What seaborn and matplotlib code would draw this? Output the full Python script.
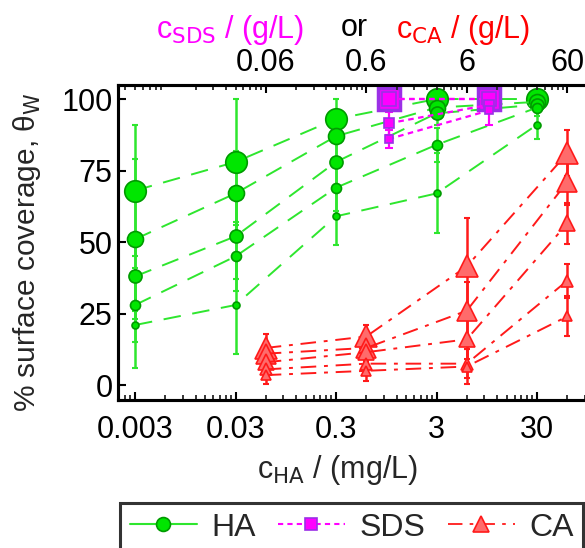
import numpy as np
import pandas as pd
import matplotlib
matplotlib.use("Agg")
import matplotlib.pyplot as plt
from matplotlib.lines import Line2D
from matplotlib.ticker import FixedLocator, NullFormatter
import seaborn as sns

# ---------------- data ----------------
ha_x = [0.003, 0.03, 0.3, 3, 30]
ha_y1 = [68, 78, 93, 100, 100]
ha_y2 = [51, 67, 87, 97, 99]
ha_y3 = [38, 52, 78, 95, 98]
ha_y4 = [28, 45, 69, 84, 97]
ha_y5 = [21, 28, 59, 67, 91]
ha_e1 = [23, 22, 7, 0, 0]
ha_e2 = [28, 15, 8, 3, 1]
ha_e3 = [12, 15, 8, 4, 2]
ha_e4 = [13, 12, 8, 6, 3]
ha_e5 = [15, 17, 10, 14, 5]

sds_x = [1, 10]
sds_y1 = [100, 100]
sds_y2 = [100, 100]
sds_y3 = [91.5, 98]
sds_y4 = [86, 96]
sds_e1 = [0, 9]
sds_e2 = [0, 0]
sds_e3 = [4, 0]
sds_e4 = [3, 0]

ca_x = [0.06, 0.6, 6, 60]
ca_y1 = [13, 17, 41.5, 81]
ca_y2 = [11, 13, 26, 71]
ca_y3 = [8, 11.5, 16, 56.5]
ca_y4 = [5.5, 7.5, 7.5, 36.5]
ca_y5 = [3.5, 5, 6.5, 24]
ca_e1 = [5, 4, 17, 8]
ca_e2 = [4, 3, 10, 8]
ca_e3 = [3, 3, 7, 7]
ca_e4 = [3, 3, 5, 6]
ca_e5 = [3, 3.5, 6, 7]

bottom_ticks = [0.003, 0.03, 0.3, 3, 30]
bottom_labels = ["0.003", "0.03", "0.3", "3", "30"]
top_ticks = [0.06, 0.6, 6, 60]
top_labels = ["0.06", "0.6", "6", "60"]
y_ticks = [0, 25, 50, 75, 100]

# ---------------- style ----------------
sns.set_theme(style="ticks")
FAM = ["Liberation Sans Narrow", "Liberation Sans", "DejaVu Sans"]
plt.rcParams["font.family"] = FAM
plt.rcParams["mathtext.fontset"] = "custom"
plt.rcParams["mathtext.rm"] = "Liberation Sans Narrow"
plt.rcParams["mathtext.it"] = "Liberation Sans Narrow:italic"
plt.rcParams["mathtext.bf"] = "Liberation Sans Narrow:bold"

FS = 22

W, H = 585, 548
fig = plt.figure(figsize=(W / 100, H / 100), dpi=100)
ax_l, ax_r, ax_t, ax_b = 118, 595, 85, 400
ax = fig.add_axes([ax_l / W, 1 - ax_b / H, (ax_r - ax_l) / W, (ax_b - ax_t) / H])

ax.set_xscale("log")
ppd = 100.5
xmin = 0.003 * 10 ** ((ax_l - 135) / ppd)
xmax = 0.003 * 10 ** ((ax_r - 135) / ppd)
ax.set_xlim(xmin, xmax)
ax.set_ylim(-5.2, 104.9)

GREEN_LINE = "#2ee62e"
GREEN_FILL = "#00e600"
GREEN_EDGE = "#009a00"
MAG = "#ff00ff"
PURPLE = "#9b30e6"
RED = "#ff1a1a"
SALMON = "#ff6b6b"

# HA series
ha_ys = [ha_y1, ha_y2, ha_y3, ha_y4, ha_y5]
ha_es = [ha_e1, ha_e2, ha_e3, ha_e4, ha_e5]
ha_ms = [15.5, 11.5, 9.4, 7.2, 5.0]
for y, e in zip(ha_ys, ha_es):
    ax.errorbar(ha_x, y, yerr=e, fmt="none", ecolor=GREEN_LINE, elinewidth=1.8,
                capsize=2.0, capthick=1.5, zorder=2)
for y, ms in zip(ha_ys, ha_ms):
    df = pd.DataFrame({"x": ha_x, "y": y})
    sns.lineplot(data=df, x="x", y="y", ax=ax, color=GREEN_LINE, lw=1.4,
                 linestyle=(0, (9, 6)), marker="o", markersize=ms,
                 markerfacecolor=GREEN_FILL, markeredgecolor=GREEN_EDGE,
                 markeredgewidth=1.2, zorder=3)

# SDS series
sds_ys = [sds_y1, sds_y2, sds_y3, sds_y4]
sds_es = [sds_e1, sds_e2, sds_e3, sds_e4]
sds_ms = [16.5, 10.0, 7.5, 5.5]
sds_mew = [2.5, 1.2, 1.2, 1.2]
for y, e in zip(sds_ys, sds_es):
    ax.errorbar(sds_x, y, yerr=e, fmt="none", ecolor=MAG, elinewidth=1.6,
                capsize=3.0, capthick=1.5, zorder=4)
for y, ms, mew in zip(sds_ys, sds_ms, sds_mew):
    df = pd.DataFrame({"x": sds_x, "y": y})
    sns.lineplot(data=df, x="x", y="y", ax=ax, color=MAG, lw=1.6,
                 linestyle=(0, (2.5, 2)), marker="s", markersize=ms,
                 markerfacecolor=MAG, markeredgecolor=PURPLE,
                 markeredgewidth=mew, zorder=5)

# CA series
ca_ys = [ca_y1, ca_y2, ca_y3, ca_y4, ca_y5]
ca_es = [ca_e1, ca_e2, ca_e3, ca_e4, ca_e5]
ca_ms = [16.5, 14.0, 12.0, 8.5, 6.5]
for y, e in zip(ca_ys, ca_es):
    ax.errorbar(ca_x, y, yerr=e, fmt="none", ecolor=RED, elinewidth=1.8,
                capsize=2.5, capthick=1.5, zorder=6)
for y, ms in zip(ca_ys, ca_ms):
    df = pd.DataFrame({"x": ca_x, "y": y})
    sns.lineplot(data=df, x="x", y="y", ax=ax, color=RED, lw=1.4,
                 linestyle=(0, (8, 4, 2, 4)), marker="^", markersize=ms,
                 markerfacecolor=SALMON, markeredgecolor=RED,
                 markeredgewidth=1.2, zorder=7)

# axes decoration
ax.set_xlabel("")
ax.set_ylabel("")
ax.set_xticks(bottom_ticks)
ax.set_xticklabels(bottom_labels)
minor_b = [k * t for t in [0.0003, 0.003, 0.03, 0.3, 3, 30] for k in range(2, 10)]
ax.xaxis.set_minor_locator(FixedLocator(minor_b))
ax.xaxis.set_minor_formatter(NullFormatter())
ax.set_yticks(y_ticks)
ax.set_yticklabels([str(v) for v in y_ticks])
ax.tick_params(axis="both", which="major", direction="in", length=6, width=1.5,
               labelsize=FS, colors="black")
ax.tick_params(axis="x", which="major", pad=11)
ax.tick_params(axis="y", which="major", pad=4)
ax.tick_params(axis="x", which="minor", direction="in", length=3.5, width=1.3)
for s in ax.spines.values():
    s.set_linewidth(2.2)
    s.set_color("black")

axt = ax.twiny()
axt.set_xscale("log")
axt.set_xlim(ax.get_xlim())
axt.set_xticks(top_ticks)
axt.set_xticklabels(top_labels)
minor_t = [k * t for t in [0.0006, 0.006, 0.06, 0.6, 6, 60] for k in range(2, 10)]
axt.xaxis.set_minor_locator(FixedLocator(minor_t))
axt.xaxis.set_minor_formatter(NullFormatter())
axt.tick_params(axis="x", which="major", direction="in", length=6, width=1.5,
                labelsize=FS, pad=5, colors="black")
axt.tick_params(axis="x", which="minor", direction="in", length=3.5, width=1.3)
for s in axt.spines.values():
    s.set_linewidth(2.2)
    s.set_color("black")
axt.grid(False)
ax.grid(False)

# labels
fig.text(337 / W, 1 - 470 / H, r"c$_{\mathrm{HA}}$ / (mg/L)", ha="center",
         va="center", fontsize=FS)
fig.text(27 / W, 1 - 252 / H, r"% surface coverage, θ$_{\mathrm{W}}$", ha="center",
         va="center", rotation=90, fontsize=FS - 0.5)
fig.text(230 / W, 1 - 30 / H, r"c$_{\mathrm{SDS}}$ / (g/L)", ha="center",
         va="center", fontsize=FS, color=MAG)
fig.text(354 / W, 1 - 28 / H, "or", ha="center", va="center", fontsize=FS,
         color="black")
fig.text(463 / W, 1 - 30 / H, r"c$_{\mathrm{CA}}$ / (g/L)", ha="center",
         va="center", fontsize=FS, color="red")

# legend
handles = [
    Line2D([], [], color=GREEN_LINE, lw=1.5, marker="o", markersize=10,
           markerfacecolor=GREEN_FILL, markeredgecolor=GREEN_EDGE, markeredgewidth=1.2),
    Line2D([], [], color=MAG, lw=1.5, linestyle=(0, (2.5, 2)), marker="s", markersize=9,
           markerfacecolor=MAG, markeredgecolor=PURPLE, markeredgewidth=1.2),
    Line2D([], [], color=RED, lw=1.3, linestyle=(0, (8, 4, 2, 4)), marker="^",
           markersize=12, markerfacecolor=SALMON, markeredgecolor=RED, markeredgewidth=1.2),
]
leg = fig.legend(handles, ["HA", "SDS", "CA"], loc="upper left",
                 bbox_to_anchor=(120 / W, 1 - 503 / H), bbox_transform=fig.transFigure,
                 ncol=3, fontsize=FS + 1, frameon=True, fancybox=False, borderaxespad=0,
                 handlelength=2.1, handletextpad=0.45, columnspacing=0.7,
                 borderpad=0.3)
leg.get_frame().set_edgecolor("black")
leg.get_frame().set_linewidth(2.2)

fig.savefig("out.png", dpi=100)
